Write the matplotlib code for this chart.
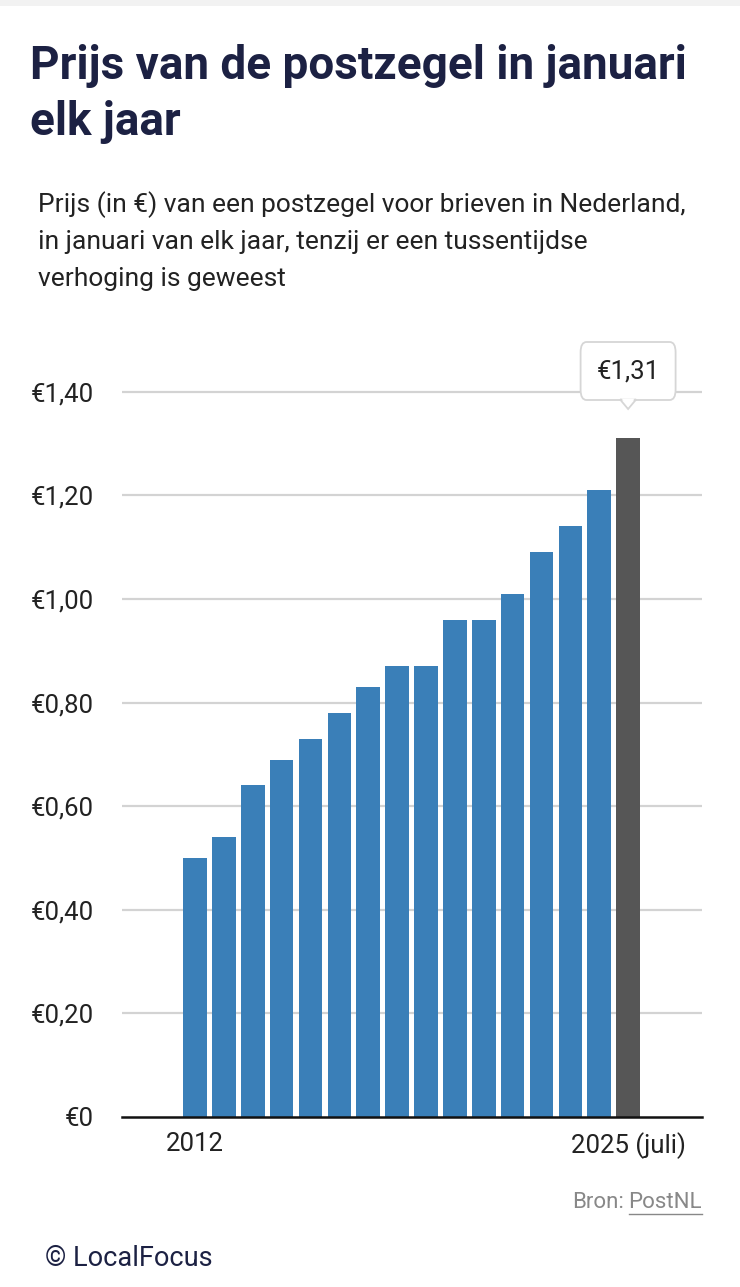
import matplotlib
matplotlib.use("Agg")
import matplotlib.pyplot as plt
from matplotlib.patches import FancyBboxPatch, Polygon

# data
categories = ["2012", "2013", "2014", "2015", "2016", "2017", "2018", "2019",
              "2020", "2021", "2022", "2023", "2023 (juli)", "2024", "2025",
              "2025 (juli)"]
prices = [0.50, 0.54, 0.64, 0.69, 0.73, 0.78, 0.83, 0.87,
          0.87, 0.96, 0.96, 1.01, 1.09, 1.14, 1.21, 1.31]
shown_ticks = ["2012", "2025 (juli)"]
y_ticks = [0, 0.2, 0.4, 0.6, 0.8, 1.0, 1.2, 1.4]

BLUE = "#3a7fb8"
GREY = "#565656"
NAVY = "#1c2143"
TEXT = "#222222"

plt.rcParams['font.family'] = ['Roboto', 'DejaVu Sans']

W, H = 740, 1287
fig = plt.figure(figsize=(W / 100, H / 100), dpi=100)
fig.patch.set_facecolor("white")

# axes placed in pixel terms: left 122, right 702, bottom 1117, top 340
ax = fig.add_axes([122 / W, 1 - 1117 / H, 580 / W, (1117 - 340) / H])
ax.set_facecolor("none")

x = list(range(len(prices)))
colors = [BLUE] * (len(prices) - 1) + [GREY]
ax.bar(x, prices, width=0.82, color=colors, zorder=3)

ax.set_xlim(-2.53, len(prices) - 1 + 2.56)
ax.set_ylim(0, 1.5)

ax.set_yticks(y_ticks)
ax.set_yticklabels(["€0" if v == 0 else "€" + f"{v:.2f}".replace(".", ",") for v in y_ticks],
                   fontsize=18.5, color=TEXT)
ax.tick_params(axis="y", length=0, pad=20)
for v in y_ticks[1:]:
    ax.axhline(v, color="#d3d3d3", linewidth=1.6, zorder=1)

ax.set_xticks([categories.index(c) for c in shown_ticks])
ax.set_xticklabels(shown_ticks, fontsize=18.5, color=TEXT)
ax.tick_params(axis="x", length=0, pad=11)

for s in ["top", "right", "left"]:
    ax.spines[s].set_visible(False)
ax.spines["bottom"].set_color("#111111")
ax.spines["bottom"].set_linewidth(1.8)
ax.spines["bottom"].set_zorder(4)

# tooltip above the last bar
last = len(prices) - 1
px = ax.transData.transform((last, 0))[0]
fx = px / W
box_w, box_h = 95 / W, 58 / H
box_y0 = 1 - 400 / H
tip = FancyBboxPatch((fx - box_w / 2, box_y0), box_w, box_h,
                     boxstyle="round,pad=0,rounding_size=0.008",
                     transform=fig.transFigure, facecolor="white",
                     edgecolor="#d6d6d6", linewidth=1.3, zorder=5)
fig.patches.append(tip)
arrow = Polygon([(fx - 8 / W, box_y0 + 0.5 / H), (fx + 8 / W, box_y0 + 0.5 / H),
                 (fx, 1 - 409 / H)], closed=True, transform=fig.transFigure,
                facecolor="white", edgecolor="#d6d6d6", linewidth=1.3, zorder=5)
fig.patches.append(arrow)
cover = Polygon([(fx - 6.5 / W, box_y0 + 1.5 / H), (fx + 6.5 / W, box_y0 + 1.5 / H),
                 (fx, 1 - 407 / H)], closed=True, transform=fig.transFigure,
                facecolor="white", edgecolor="none", zorder=6)
fig.patches.append(cover)
fig.text(fx, 1 - 372 / H, "€" + f"{prices[last]:.2f}".replace(".", ","),
         ha="center", va="center", fontsize=18.5, color=TEXT, zorder=7)

# title and subtitle
fig.text(30 / W, 1 - 66 / H, "Prijs van de postzegel in januari",
         fontsize=33, fontweight="bold", color=NAVY, ha="left", va="center")
fig.text(30 / W, 1 - 122 / H, "elk jaar",
         fontsize=33, fontweight="bold", color=NAVY, ha="left", va="center")
sub = ["Prijs (in €) van een postzegel voor brieven in Nederland,",
       "in januari van elk jaar, tenzij er een tussentijdse",
       "verhoging is geweest"]
for i, line in enumerate(sub):
    fig.text(38 / W, 1 - (205 + 37 * i) / H, line, fontsize=19,
             color=TEXT, ha="left", va="center")

# source and credit
src = fig.text(702 / W, 1 - 1203 / H, "PostNL", fontsize=16, color="#888888",
               ha="right", va="center")
fig.canvas.draw()
bb = src.get_window_extent()
fig.text(bb.x0 / W - 4 / W, 1 - 1203 / H, "Bron:", fontsize=16, color="#888888",
         ha="right", va="center")
fig.add_artist(plt.Line2D([bb.x0 / W, 702 / W], [1 - 1214 / H, 1 - 1214 / H],
                          color="#888888", linewidth=1))
fig.text(45 / W, 1 - 1258 / H, "© LocalFocus", fontsize=19.5, color=NAVY,
         ha="left", va="center")

# faint band at the very top of the screenshot
fig.add_artist(plt.Rectangle((0, 1 - 6 / H), 1, 6 / H, transform=fig.transFigure,
                             facecolor="#f2f2f2", edgecolor="none"))

fig.savefig("out.png", dpi=100, facecolor="white")
